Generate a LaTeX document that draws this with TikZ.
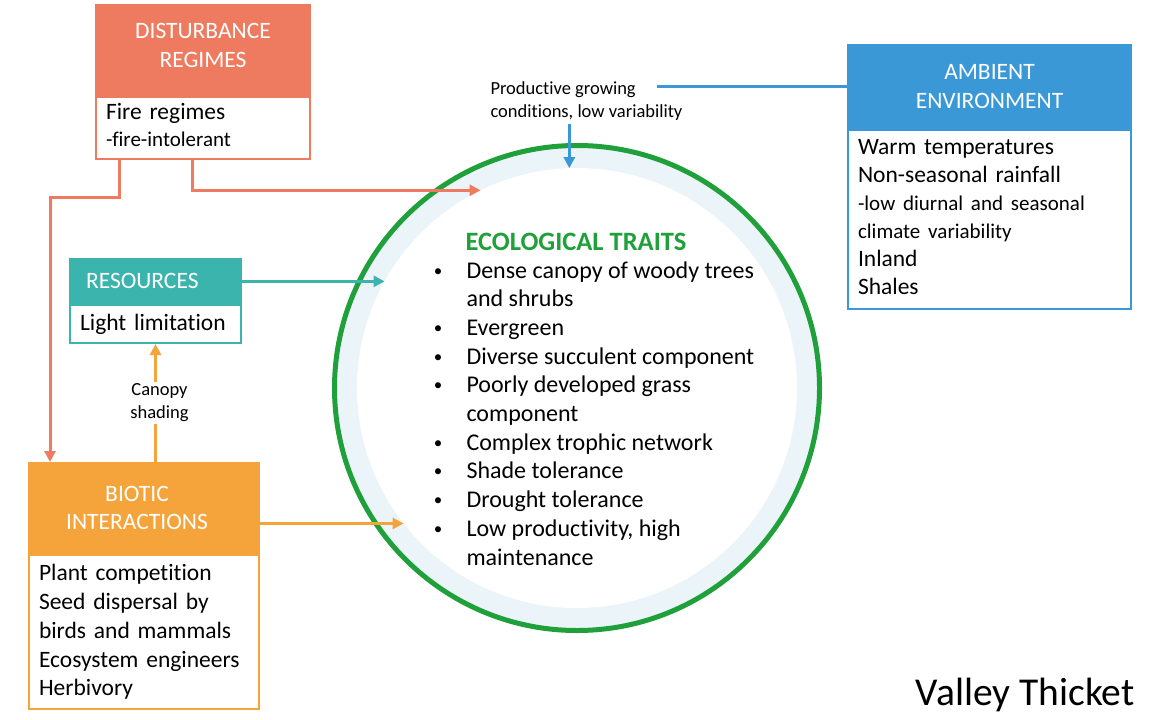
\documentclass[tikz,border=0pt]{standalone}
\usepackage{fontspec}
\setmainfont{Carlito}[Ligatures=NoCommon]
\usetikzlibrary{arrows.meta}

\definecolor{distc}{RGB}{238,122,95}
\definecolor{ambc}{RGB}{58,152,214}
\definecolor{resc}{RGB}{59,180,174}
\definecolor{bioc}{RGB}{245,164,60}
\definecolor{ecogreen}{RGB}{31,160,58}
\definecolor{bandc}{RGB}{235,244,249}

\newcommand{\bigtxt}{\fontsize{23.5pt}{28.5pt}\selectfont}
\newcommand{\smtxt}{\fontsize{21pt}{26pt}\selectfont}
\newcommand{\lbltxt}{\fontsize{18.5pt}{23pt}\selectfont}

\begin{document}
\begin{tikzpicture}[x=1pt, y=-1pt, line width=3pt, >={Triangle[length=11pt, width=11pt]}]
	\tikzstyle{head} = [rectangle, inner sep=0pt, text=white, align=center, font=\bigtxt, line width=2pt]
	\tikzstyle{body} = [rectangle, fill=white, inner xsep=10pt, inner ysep=0pt, align=left, font=\bigtxt, line width=2pt]
	\tikzstyle{trait} = [inner sep=0pt, font=\fontsize{24pt}{28.7pt}\selectfont]
	\tikzstyle{lbl} = [inner sep=2pt, text=black, font=\lbltxt]

	\useasboundingbox (0,0) rectangle (1159,720);

	\node[circle, fill=bandc, draw=ecogreen, line width=5pt, minimum size=485pt, inner sep=0pt] (ring) at (577,388) {};
	\node[circle, fill=white, minimum size=440pt, inner sep=0pt, outer sep=0pt] (inner) at (577,388) {};

	\node[head, fill=distc, draw=distc, minimum width=214pt, minimum height=90pt, text depth=9pt, anchor=north west] (dist) at (95,4) {DISTURBANCE\\REGIMES};
	\node[body, draw=distc, text width=194pt, minimum height=62pt, text depth=33pt, anchor=north, font=\fontsize{23.5pt}{27pt}\selectfont] (dist-b) at (dist.south) {Fire regimes\\{\smtxt -fire-intolerant}};

	\node[head, fill=ambc, draw=ambc, minimum width=283pt, minimum height=83pt, anchor=north west] (amb) at (847,44) {AMBIENT\\ENVIRONMENT};
	\node[body, draw=ambc, text width=263pt, minimum height=179pt, text depth=146pt, anchor=north, font=\fontsize{23.5pt}{28pt}\selectfont] (amb-b) at (amb.south) {Warm temperatures\\Non-seasonal rainfall\\{\smtxt -low diurnal and seasonal}\\{\smtxt climate variability}\\Inland\\Shales};

	\node[head, fill=resc, draw=resc, align=left, text width=139pt, inner xsep=16pt, minimum height=44pt, anchor=north west] (res) at (69,258) {RESOURCES};
	\node[body, draw=resc, text width=151pt, minimum height=38pt, anchor=north] (res-b) at (res.south) {Light limitation};

	\node[head, fill=bioc, draw=bioc, minimum width=230pt, minimum height=90pt, anchor=north west] (bio) at (28,462) {\hspace*{-14pt}BIOTIC\\\hspace*{-14pt}INTERACTIONS};
	\node[body, draw=bioc, text width=210pt, minimum height=154pt, anchor=north, font=\fontsize{23.5pt}{28.75pt}\selectfont] (bio-b) at (bio.south) {Plant competition\\Seed dispersal by\\birds and mammals\\Ecosystem engineers\\Herbivory};

	\node[lbl, align=left, anchor=north west] (cond) at (487,78) {Productive growing\\conditions, low variability};

	\draw[ambc] (amb.west) -- ++(-190,0);
	\draw[->, ambc] (cond.south -| inner.92.6) -- (inner.92.6);
	\draw[->, distc] ([xshift=24pt]dist-b.south west) -- ++(0,37) -| ([xshift=22pt]bio.north west);
	\draw[->, distc] ([xshift=97pt]dist-b.south west) |- (inner.116.2);
	\draw[->, resc] (res.east |- inner.151.5) -- (inner.151.5);
	\draw[->, bioc] (bio.east |- inner.218.5) -- (inner.218.5);
	\draw[->, bioc] (res-b.south |- bio.north) -- node[lbl, fill=white, align=center, xshift=4pt] (shade) {Canopy\\shading} (res-b.south);

	\node[anchor=base west, inner sep=0pt, font=\fontsize{26.5pt}{30pt}\selectfont\bfseries, text=ecogreen] (title) at (464,250) {ECOLOGICAL TRAITS};

	\foreach \index/\text in {0/Dense canopy of woody trees, 1/and shrubs, 2/Evergreen, 3/Diverse succulent component, 4/Poorly developed grass, 5/component, 6/Complex trophic network, 7/Shade tolerance, 8/Drought tolerance, 9/{Low productivity, high}, 10/maintenance} {
		\node[trait, anchor=base west] (T-\index) at (465, {278 + 28.7*\index}) {\text};
	}

	\foreach \index in {0, 2, 3, 4, 6, 7, 8, 9} {
		\node[trait, anchor=base, font=\fontsize{17pt}{20pt}\selectfont] (B-\index) at (438, {276 + 28.7*\index}) {\textbullet};
	}

	\node[anchor=base east, inner sep=0pt, font=\fontsize{39.5pt}{46pt}\selectfont] (vt) at (1136,705) {Valley Thicket};
\end{tikzpicture}
\end{document}
